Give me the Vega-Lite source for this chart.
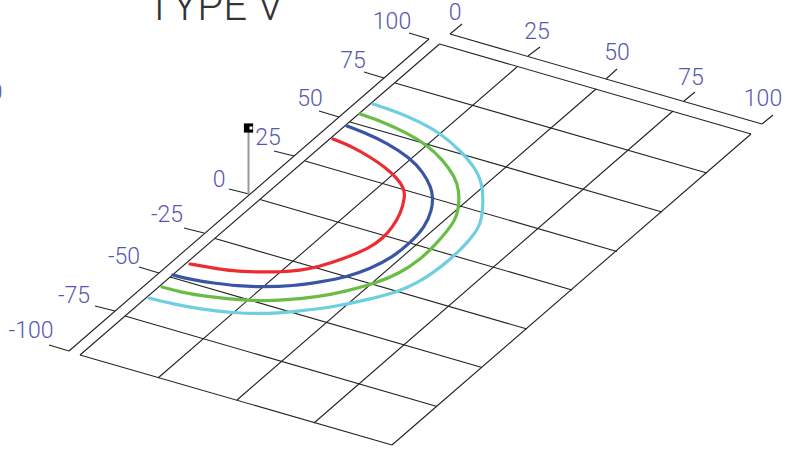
{"$schema":"https://vega.github.io/schema/vega-lite/v6.json","width":785,"height":455,"padding":0,"autosize":{"type":"none"},"background":"white","view":{"stroke":null},
"datasets":{
"grid":[{"x":80,"y":355,"x2":392,"y2":445},{"x":125,"y":316,"x2":437,"y2":406.5},{"x":170,"y":277,"x2":482,"y2":367.5},{"x":215,"y":238.5,"x2":527,"y2":329},{"x":260,"y":199.5,"x2":572,"y2":290},{"x":305,"y":161,"x2":617,"y2":251.5},{"x":350,"y":122,"x2":662,"y2":212},{"x":395,"y":83,"x2":707,"y2":173},{"x":439.5,"y":44,"x2":751,"y2":134},{"x":80,"y":355,"x2":439.5,"y2":44},{"x":158,"y":378,"x2":517,"y2":67},{"x":237,"y":400,"x2":596,"y2":89},{"x":314,"y":423,"x2":673,"y2":111},{"x":392,"y":445,"x2":751,"y2":134},
{"x":69,"y":351,"x2":429,"y2":39},{"x":450,"y":34,"x2":762,"y2":124},
{"x":49,"y":345,"x2":69,"y2":351},{"x":95,"y":306,"x2":115,"y2":311},{"x":139,"y":267,"x2":159,"y2":273},{"x":184,"y":228,"x2":204,"y2":233},{"x":229,"y":189,"x2":249,"y2":194},{"x":274,"y":151,"x2":294,"y2":156},{"x":319,"y":111,"x2":339,"y2":117},{"x":364,"y":72,"x2":384,"y2":78},{"x":409,"y":33,"x2":429,"y2":39},
{"x":450,"y":34,"x2":462,"y2":24},{"x":528,"y":56,"x2":540,"y2":47},{"x":606,"y":79,"x2":617,"y2":69},{"x":684,"y":101,"x2":695,"y2":92},{"x":762,"y":124,"x2":773,"y2":115}],
"stem":[{"x":248.5,"y":194,"x2":248.5,"y2":130}],
"marker":[{"x":248.5,"y":128}],
"notch":[{"x":251,"y":128}],
"labels":[{"x":31,"y":331,"t":"-100"},{"x":74,"y":296,"t":"-75"},{"x":124,"y":257,"t":"-50"},{"x":167,"y":215,"t":"-25"},{"x":219,"y":180,"t":"0"},{"x":268,"y":138,"t":"25"},{"x":310,"y":99,"t":"50"},{"x":353,"y":61,"t":"75"},{"x":392,"y":22,"t":"100"},{"x":455,"y":13,"t":"0"},{"x":537,"y":32,"t":"25"},{"x":617,"y":53,"t":"50"},{"x":691,"y":78,"t":"75"},{"x":763,"y":99,"t":"100"},{"x":-4,"y":93,"t":"0"}],
"title":[{"x":215,"y":20,"t":"TYPE V"}],
"curves":[
{"c":"d","i":1,"x":373,"y":104},{"c":"d","i":2,"x":397,"y":112},{"c":"d","i":3,"x":420,"y":122},{"c":"d","i":4,"x":440,"y":133},{"c":"d","i":5,"x":460,"y":150},{"c":"d","i":6,"x":477,"y":170},{"c":"d","i":7,"x":483,"y":187},{"c":"d","i":8,"x":483,"y":210},{"c":"d","i":9,"x":480,"y":227},{"c":"d","i":10,"x":467,"y":243},{"c":"d","i":11,"x":452,"y":258},{"c":"d","i":12,"x":433,"y":273},{"c":"d","i":13,"x":417,"y":283},{"c":"d","i":14,"x":400,"y":291},{"c":"d","i":15,"x":367,"y":300},{"c":"d","i":16,"x":333,"y":307},{"c":"d","i":17,"x":300,"y":311},{"c":"d","i":18,"x":267,"y":314},{"c":"d","i":19,"x":233,"y":313},{"c":"d","i":20,"x":200,"y":309},{"c":"d","i":21,"x":173,"y":304},{"c":"d","i":22,"x":149,"y":298},
{"c":"c","i":1,"x":360,"y":114},{"c":"c","i":2,"x":383,"y":122},{"c":"c","i":3,"x":407,"y":133},{"c":"c","i":4,"x":427,"y":145},{"c":"c","i":5,"x":443,"y":160},{"c":"c","i":6,"x":455,"y":177},{"c":"c","i":7,"x":459,"y":190},{"c":"c","i":8,"x":459,"y":207},{"c":"c","i":9,"x":455,"y":222},{"c":"c","i":10,"x":437,"y":243},{"c":"c","i":11,"x":420,"y":260},{"c":"c","i":12,"x":400,"y":273},{"c":"c","i":13,"x":377,"y":283},{"c":"c","i":14,"x":343,"y":292},{"c":"c","i":15,"x":317,"y":297},{"c":"c","i":16,"x":287,"y":300},{"c":"c","i":17,"x":257,"y":301},{"c":"c","i":18,"x":230,"y":299},{"c":"c","i":19,"x":203,"y":296},{"c":"c","i":20,"x":180,"y":292},{"c":"c","i":21,"x":162,"y":287},
{"c":"b","i":1,"x":347,"y":126},{"c":"b","i":2,"x":363,"y":132},{"c":"b","i":3,"x":387,"y":143},{"c":"b","i":4,"x":410,"y":158},{"c":"b","i":5,"x":423,"y":172},{"c":"b","i":6,"x":431,"y":187},{"c":"b","i":7,"x":433,"y":197},{"c":"b","i":8,"x":432,"y":210},{"c":"b","i":9,"x":425,"y":227},{"c":"b","i":10,"x":410,"y":243},{"c":"b","i":11,"x":393,"y":257},{"c":"b","i":12,"x":370,"y":269},{"c":"b","i":13,"x":347,"y":277},{"c":"b","i":14,"x":320,"y":282},{"c":"b","i":15,"x":293,"y":286},{"c":"b","i":16,"x":263,"y":287},{"c":"b","i":17,"x":237,"y":286},{"c":"b","i":18,"x":213,"y":283},{"c":"b","i":19,"x":193,"y":280},{"c":"b","i":20,"x":173,"y":275},
{"c":"a","i":1,"x":333,"y":139},{"c":"a","i":2,"x":353,"y":147},{"c":"a","i":3,"x":370,"y":157},{"c":"a","i":4,"x":385,"y":167},{"c":"a","i":5,"x":397,"y":178},{"c":"a","i":6,"x":404,"y":188},{"c":"a","i":7,"x":405,"y":197},{"c":"a","i":8,"x":401,"y":213},{"c":"a","i":9,"x":392,"y":228},{"c":"a","i":10,"x":383,"y":238},{"c":"a","i":11,"x":370,"y":248},{"c":"a","i":12,"x":343,"y":259},{"c":"a","i":13,"x":318,"y":267},{"c":"a","i":14,"x":300,"y":270.5},{"c":"a","i":15,"x":280,"y":272},{"c":"a","i":16,"x":257,"y":272},{"c":"a","i":17,"x":233,"y":271},{"c":"a","i":18,"x":213,"y":268},{"c":"a","i":19,"x":190,"y":264}]
},
"encoding":{"x":{"field":"x","type":"quantitative","scale":{"domain":[0,785]},"axis":null},"y":{"field":"y","type":"quantitative","scale":{"domain":[455,0]},"axis":null}},
"layer":[
{"data":{"name":"grid"},"mark":{"type":"rule","color":"#222222","strokeWidth":1.1,"clip":false},"encoding":{"x2":{"field":"x2"},"y2":{"field":"y2"}}},
{"data":{"name":"stem"},"mark":{"type":"rule","color":"#999999","strokeWidth":2},"encoding":{"x2":{"field":"x2"},"y2":{"field":"y2"}}},
{"data":{"name":"marker"},"mark":{"type":"square","color":"#000000","size":85,"opacity":1}},
{"data":{"name":"notch"},"mark":{"type":"square","color":"#ffffff","size":9,"opacity":1}},
{"data":{"name":"curves"},"mark":{"type":"line","strokeWidth":3.2,"strokeCap":"round","strokeJoin":"round","interpolate":"basis"},"encoding":{"order":{"field":"i","type":"quantitative"},"detail":{"field":"c"},"color":{"field":"c","type":"nominal","legend":null,"scale":{"domain":["a","b","c","d"],"range":["#ee2a32","#3b55a5","#69bd45","#6dcfdf"]}}}},
{"data":{"name":"labels"},"mark":{"type":"text","font":"Roboto","fontWeight":300,"fontSize":23,"color":"#5558b0","align":"center","baseline":"middle"},"encoding":{"text":{"field":"t"}}},
{"data":{"name":"title"},"mark":{"type":"text","font":"Roboto","fontWeight":300,"fontSize":42,"color":"#333333","align":"center","baseline":"alphabetic"},"encoding":{"text":{"field":"t"}}}
]}
